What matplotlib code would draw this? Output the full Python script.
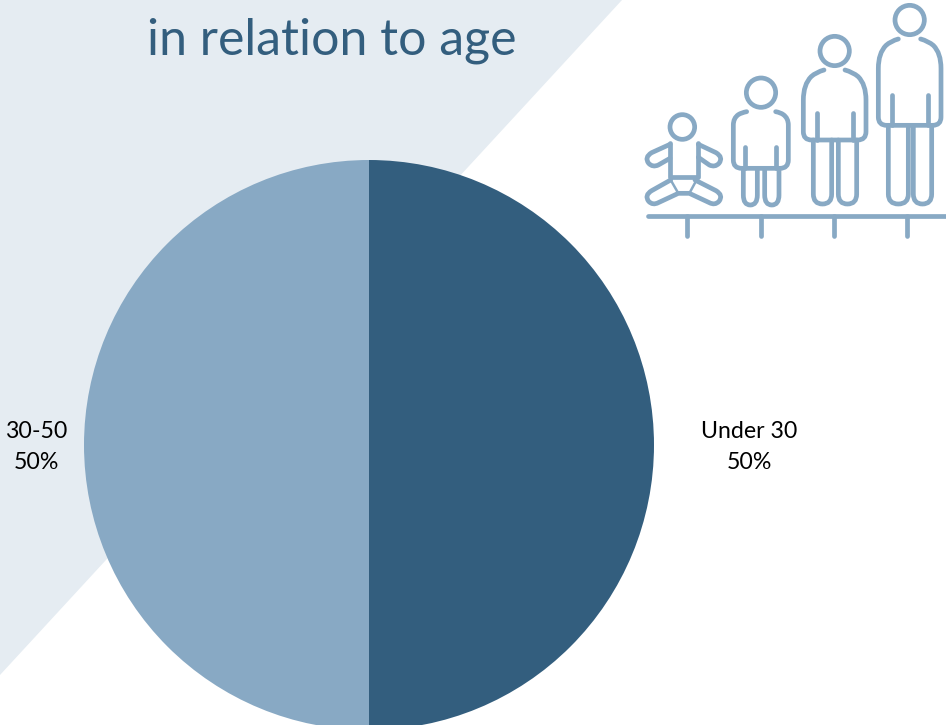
import matplotlib
matplotlib.use("Agg")
import matplotlib.pyplot as plt
from matplotlib.patches import Circle, PathPatch, Polygon
from matplotlib.path import Path

plt.rcParams['font.family'] = ['Lato', 'DejaVu Sans']

age_groups = ['Under 30', '30-50']
shares = [50, 50]
title = 'in relation to age'

dark = '#335E7E'
light = '#88A9C4'
pale = '#E5ECF2'
W, H = 946, 725

fig = plt.figure(figsize=(W / 100, H / 100), dpi=100, facecolor='white')

# background layer in pixel coordinates
bg = fig.add_axes([0, 0, 1, 1])
bg.set_xlim(0, W)
bg.set_ylim(H, 0)
bg.axis('off')
bg.add_patch(Polygon([(0, 0), (622, 0), (0, 675)], fc=pale, ec='none'))

# pie runs slightly past the bottom edge of the figure
cx, cy, r = 369, 445, 285
pie_ax = fig.add_axes([(cx - r) / W, 1 - (cy + r) / H, 2 * r / W, 2 * r / H])
pie_ax.pie(shares, colors=[dark, light], startangle=90, counterclock=False,
           radius=1, wedgeprops={'linewidth': 0})
pie_ax.set_xlim(-1, 1)
pie_ax.set_ylim(-1, 1)

# text and icon layer
top = fig.add_axes([0, 0, 1, 1])
top.set_xlim(0, W)
top.set_ylim(H, 0)
top.axis('off')

top.text(332, 41, title, color=dark, fontsize=36, ha='center', va='center')
label_x = [749, 36]
for name, val, x in zip(age_groups, shares, label_x):
    top.text(x, 431, name, color='black', fontsize=16.7, ha='center', va='center')
    top.text(x, 462, f'{val}%', color='black', fontsize=16.7, ha='center', va='center')


def px(x, y):
    # icon was laid out on a 3x grid starting at x=630
    return 630 + x / 3, y / 3


def stroke(*segs, lw=3.4):
    # a tuple of 2 is a line-to, a tuple of 4 is a quadratic curve (ctrl, end)
    verts, codes = [px(*segs[0])], [Path.MOVETO]
    for s in segs[1:]:
        if len(s) == 2:
            verts.append(px(*s))
            codes.append(Path.LINETO)
        else:
            verts += [px(s[0], s[1]), px(s[2], s[3])]
            codes += [Path.CURVE3, Path.CURVE3]
    top.add_patch(PathPatch(Path(verts, codes), fc='none', ec=light, lw=lw,
                            capstyle='round', joinstyle='round'))


def head(x, y, rad, lw=3.4):
    top.add_patch(Circle(px(x, y), rad / 3, fc='none', ec=light, lw=lw))


def person(hx, hy, sh_l, sh_r, left, right, side_top, hem, arm_l, arm_r, arm_top,
           legs, foot):
    head(hx, hy, 44)
    sh_y = hy + 57
    dx = sh_l - left
    dy = side_top - sh_y
    stroke((sh_l, sh_y),
           (sh_l - 0.38 * dx, sh_y + 0.07 * dy, left + 0.38 * dx, sh_y + 0.22 * dy),
           (left, sh_y + 0.48 * dy, left, side_top), (left, hem - 25),
           (left, hem, left + 25, hem), (right - 25, hem),
           (right, hem, right, hem - 25), (right, side_top),
           (right, sh_y + 0.48 * dy, right - 0.38 * dx, sh_y + 0.22 * dy),
           (sh_r + 0.38 * dx, sh_y + 0.07 * dy, sh_r, sh_y))
    stroke((arm_l, arm_top), (arm_l, hem))
    stroke((arm_r, arm_top), (arm_r, hem))
    for a, b in legs:
        mid = (a + b) / 2
        stroke((a, hem), (a, foot), (a, foot + 30, mid, foot + 30),
               (b, foot + 30, b, foot), (b, hem))


person(839, 60, 805, 872, 745, 933, 205, 376, 785, 895, 285,
       [(775, 835), (850, 905)], 582)
person(614, 153, 582, 645, 520, 708, 300, 420, 560, 670, 340,
       [(550, 605), (625, 680)], 582)
person(393, 278, 350, 437, 310, 475, 375, 505, 346, 439, 442,
       [(340, 382), (404, 447)], 585)

# baby
head(157, 381, 37)
stroke((120, 430), (120, 530), (205, 530), (205, 430))
stroke((120, 433), (65, 458), (42, 472, 56, 490), (68, 503, 85, 495), (120, 475))
stroke((205, 433), (258, 458), (281, 472, 267, 490), (255, 503, 238, 495), (205, 472))
stroke((122, 540), (65, 572), (42, 586, 56, 604), (68, 617, 85, 608), (145, 580),
       (178, 580), (238, 608), (255, 617, 267, 604), (281, 586, 258, 572), (195, 540))
stroke((125, 545), (145, 580), lw=1.8)
stroke((197, 545), (178, 580), lw=1.8)

# ground line and ticks
stroke((55, 649), (948, 649))
for tx in [172, 392, 611, 831]:
    stroke((tx, 649), (tx, 708))

fig.savefig('out.png', dpi=100)
